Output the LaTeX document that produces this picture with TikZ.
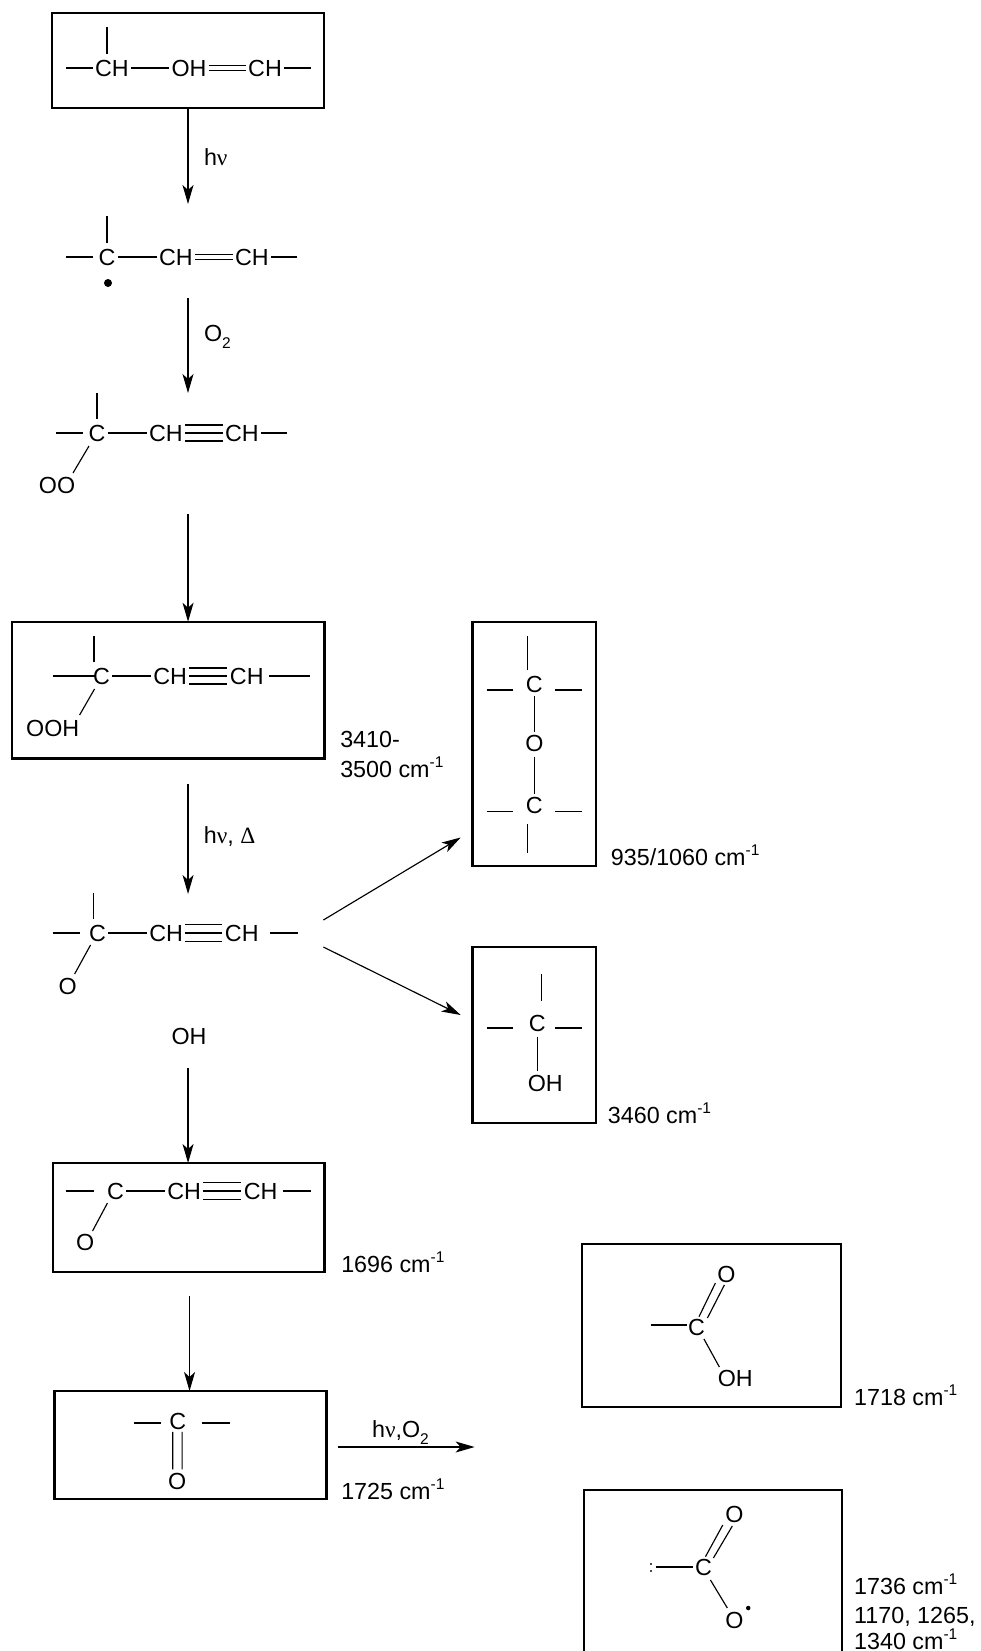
\documentclass[tikz,border=0pt]{standalone}
\usepackage{fontspec}
\setmainfont{Liberation Sans}
\newfontfamily\gk{Liberation Serif}
\usetikzlibrary{arrows.meta}
\newcommand{\nuu}{{\gk ν}}
\newcommand{\dlt}{{\gk Δ}}
\newcommand{\supr}[1]{\raisebox{0.42em}{\fontsize{15.5}{15.5}\selectfont #1}}
\newcommand{\subr}[1]{\raisebox{-0.3em}{\fontsize{15.5}{15.5}\selectfont #1}}
\tikzset{
  x=1pt,y=-1pt,
  atom/.style={font=\fontsize{23.3}{23.3}\selectfont,text height=16.5pt,text depth=0pt,inner xsep=2.5pt,inner ysep=5.5pt,outer sep=0pt,anchor=center},
  lab/.style={font=\fontsize{23.3}{23.3}\selectfont,text height=16.5pt,text depth=0pt,inner sep=0pt,outer sep=0pt,anchor=west},
  frame/.style={draw=black,line width=2.5pt,inner sep=0pt,outer sep=0pt,rectangle},
  bond/.style={draw=black,line width=1.15pt},
  arr/.style={draw=black,line width=1.15pt,-{Stealth[length=19pt,width=11pt,inset=5pt]}},
  radical/.style={circle,fill=black,inner sep=0pt,outer sep=0pt},
}
\begin{document}
\begin{tikzpicture}
\path[use as bounding box,fill=white] (0,0) rectangle (981,1651);
\clip (0,0) rectangle (981,1651);

% first box
\node[frame,minimum width=272pt,minimum height=95pt] (box1) at (188,60.5) {};

% row 1
\node[atom] (a1) at (112,68) {CH};
\node[atom] (a2) at (189,68) {OH};
\node[atom] (a3) at (265,68) {CH};
\coordinate (a1L) at (66,68);
\coordinate (a1U) at (107,27);
\coordinate (a3R) at (311,68);
\draw[bond] (a1L) -- (a1.west);
\draw[bond] (a1U) -- (a1U |- a1.north);
\draw[bond] (a1.east) -- (a2.west);
\draw[bond] ([shift={(0,-2.5)}]a2.east) -- ([shift={(0,-2.5)}]a3.west);
\draw[bond] ([shift={(0,2.5)}]a2.east) -- ([shift={(0,2.5)}]a3.west);
\draw[bond] (a3.east) -- (a3R);

% arrow 1
\coordinate (ar1e) at (188,204);
\draw[arr] (box1.south) -- (ar1e);
\node[lab] (t1) at (204,157) {h\nuu};

% row 2
\node[atom] (b1) at (107,257) {C};
\node[atom] (b2) at (176,257) {CH};
\node[atom] (b3) at (252,257) {CH};
\node[radical,minimum size=8pt] (bdot) at (108,283) {};
\coordinate (b1L) at (66,257);
\coordinate (b1U) at (107,216);
\coordinate (b3R) at (297,257);
\draw[bond] (b1L) -- ([shift={(-3,0)}]b1.west);
\draw[bond] (b1U) -- (b1U |- b1.north);
\draw[bond] (b1.east) -- (b2.west);
\draw[bond] ([shift={(0,-2.5)}]b2.east) -- ([shift={(0,-2.5)}]b3.west);
\draw[bond] ([shift={(0,2.5)}]b2.east) -- ([shift={(0,2.5)}]b3.west);
\draw[bond] (b3.east) -- (b3R);

% arrow 2
\coordinate (ar2s) at (188,298);
\coordinate (ar2e) at (188,393);
\draw[arr] (ar2s) -- (ar2e);
\node[lab] (t2) at (204,333) {O\subr{2}};

% row 3
\node[atom] (c1) at (97,433) {C};
\node[atom] (c2) at (166,433) {CH};
\node[atom] (c3) at (242,433) {CH};
\node[atom] (c4) at (57,485) {OO};
\coordinate (c1L) at (56,433);
\coordinate (c1U) at (97,393);
\coordinate (c3R) at (287,433);
\draw[bond] (c1L) -- ([shift={(-3,0)}]c1.west);
\draw[bond] (c1U) -- (c1U |- c1.north);
\draw[bond] (c1.east) -- (c2.west);
\draw[bond] ([shift={(0,-8)}]c2.east) -- ([shift={(0,-8)}]c3.west);
\draw[bond] (c2.east) -- (c3.west);
\draw[bond] ([shift={(0,8)}]c2.east) -- ([shift={(0,8)}]c3.west);
\draw[bond] (c3.east) -- (c3R);
\draw[bond] ([shift={(-8,13)}]c1.center) -- ([shift={(16,-12)}]c4.center);

\begin{scope}[x=0.995pt]
% boxes
\node[frame,minimum width=312.5pt,minimum height=136.5pt] (box4) at (169,690) {};
\node[frame,minimum width=123.4pt,minimum height=244pt] (box6) at (537,744) {};
\node[frame,minimum width=123.4pt,minimum height=176pt] (box7) at (537,1034.8) {};
\node[frame,minimum width=271.6pt,minimum height=109pt] (box8) at (189.5,1217.5) {};
\node[frame,minimum width=271.6pt,minimum height=108pt] (box9) at (191.5,1445) {};
\node[frame,minimum width=258.7pt,minimum height=163pt] (box10) at (715,1325.5) {};
\node[frame,minimum width=257.7pt,minimum height=190pt] (box11) at (716.5,1585) {};

% arrow 3
\coordinate (ar3s) at (189,514);
\draw[arr] (ar3s) -- (ar3s |- box4.north);

% row 4
\node[atom] (d1) at (102,676) {C};
\node[atom] (d2) at (171,676) {CH};
\node[atom] (d3) at (248,676) {CH};
\node[atom] (d4) at (53,728) {OOH};
\coordinate (d1L) at (53,676);
\coordinate (d1U) at (94.5,636);
\coordinate (d3R) at (312,676);
\draw[bond] (d1L) -- ([shift={(4,0)}]d1.west);
\draw[bond] (d1U) -- (d1U |- d1.north);
\draw[bond] (d1.east) -- (d2.west);
\draw[bond] ([shift={(0,-8)}]d2.east) -- ([shift={(0,-8)}]d3.west);
\draw[bond] (d2.east) -- (d3.west);
\draw[bond] ([shift={(0,8)}]d2.east) -- ([shift={(0,8)}]d3.west);
\draw[bond] ([shift={(3,0)}]d3.east) -- (d3R);
\draw[bond] ([shift={(-7,13)}]d1.center) -- ([shift={(27,-13)}]d4.center);
\node[lab] (t4a) at (342,739.5) {3410-};
\node[lab] (t4b) at (342,769) {3500 cm\supr{-1}};

% arrow 4
\coordinate (ar4s) at (189,784);
\coordinate (ar4e) at (189,894);
\draw[arr] (ar4s) -- (ar4e);
\node[lab] (t5) at (205,835) {h\nuu, \dlt};

% row 5
\node[atom] (g1) at (98,933) {C};
\node[atom] (g2) at (167,933) {CH};
\node[atom] (g3) at (243,933) {CH};
\node[atom] (g4) at (68,986) {O};
\coordinate (g1L) at (53,933);
\coordinate (g1U) at (94,893);
\coordinate (g3R) at (299,933);
\draw[bond] (g1L) -- ([shift={(-7,0)}]g1.west);
\draw[bond] (g1U) -- (g1U |- g1.north);
\draw[bond] (g1.east) -- (g2.west);
\draw[bond] ([shift={(0,-8.5)}]g2.east) -- ([shift={(0,-8.5)}]g3.west);
\draw[bond] (g2.east) -- (g3.west);
\draw[bond] ([shift={(0,8.5)}]g2.east) -- ([shift={(0,8.5)}]g3.west);
\draw[bond] ([shift={(9,0)}]g3.east) -- (g3R);
\draw[bond] ([shift={(-7,12)}]g1.center) -- ([shift={(7,-12)}]g4.center);

% branch arrows
\coordinate (br1s) at (325,920);
\coordinate (br1e) at (463,837.5);
\coordinate (br2s) at (325,947);
\coordinate (br2e) at (463,1015);
\draw[arr] (br1s) -- (br1e);
\draw[arr] (br2s) -- (br2e);

% box 6 content
\node[atom] (e1) at (537,684) {C};
\node[atom] (e2) at (537,743.5) {O};
\node[atom] (e3) at (537,805) {C};
\coordinate (e1U) at (530,636);
\coordinate (e3D) at (530,853);
\coordinate (e1L) at (489,690);
\coordinate (e1R) at (585,690);
\coordinate (e3L) at (489,811.5);
\coordinate (e3R) at (585,811.5);
\draw[bond] (e1U) -- (e1U |- e1.north);
\draw[bond] (e1L) -- ([shift={(-10,6)}]e1.west);
\draw[bond] ([shift={(10,6)}]e1.east) -- (e1R);
\draw[bond] ([shift={(0,-2)}]e1.south) -- ([shift={(0,2)}]e2.north);
\draw[bond] (e2.south) -- ([shift={(0,3)}]e3.north);
\draw[bond] (e3L) -- ([shift={(-10,6.5)}]e3.west);
\draw[bond] ([shift={(10,6.5)}]e3.east) -- (e3R);
\draw[bond] ([shift={(-7,5)}]e3.south) -- (e3D);
\node[lab] (t6) at (614,857.5) {935/1060 cm\supr{-1}};

% box 7 content
\node[atom] (f1) at (540,1023) {C};
\node[atom] (f2) at (548,1083) {OH};
\coordinate (f1U) at (544,974);
\coordinate (f1L) at (489,1028);
\coordinate (f1R) at (585,1028);
\draw[bond] (f1U) -- ([shift={(4,-8)}]f1.north);
\draw[bond] (f1L) -- ([shift={(-13,5)}]f1.west);
\draw[bond] ([shift={(7,5)}]f1.east) -- (f1R);
\draw[bond] (f1.south) -- ([shift={(-8,2)}]f2.north);
\node[lab] (t7) at (611,1115) {3460 cm\supr{-1}};

% OH label and arrow 5
\node[atom] (oh) at (190,1036) {OH};
\coordinate (ar5s) at (189,1068);
\draw[arr] (ar5s) -- (ar5s |- box8.north);

% box 8 content
\node[atom] (h1) at (116,1191) {C};
\node[atom] (h2) at (185,1191) {CH};
\node[atom] (h3) at (262,1191) {CH};
\node[atom] (h4) at (85.5,1242) {O};
\coordinate (h1L) at (66,1191);
\coordinate (h3R) at (313,1191);
\draw[bond] (h1L) -- ([shift={(-11,0)}]h1.west);
\draw[bond] (h1.east) -- (h2.west);
\draw[bond] ([shift={(0,-8.5)}]h2.east) -- ([shift={(0,-8.5)}]h3.west);
\draw[bond] (h2.east) -- (h3.west);
\draw[bond] ([shift={(0,8.5)}]h2.east) -- ([shift={(0,8.5)}]h3.west);
\draw[bond] ([shift={(3,0)}]h3.east) -- (h3R);
\draw[bond] ([shift={(-8,12)}]h1.center) -- ([shift={(7.5,-11)}]h4.center);
\node[lab] (t8) at (343,1264) {1696 cm\supr{-1}};

% arrow 6
\coordinate (ar6s) at (190.5,1296);
\draw[arr] (ar6s) -- (ar6s |- box9.north);

% box 9 content
\node[atom] (i1) at (178.6,1421) {C};
\node[atom] (i2) at (178,1481) {O};
\coordinate (i1L) at (135,1423);
\coordinate (i1R) at (231,1423);
\draw[bond] (i1L) -- ([shift={(-5.6,2)}]i1.west);
\draw[bond] ([shift={(13.4,2)}]i1.east) -- (i1R);
\draw[bond] ([shift={(-5,-3)}]i1.south) -- ([shift={(-4.4,2)}]i2.north);
\draw[bond] ([shift={(4.4,-3)}]i1.south) -- ([shift={(5,2)}]i2.north);
\node[lab] (t9) at (343,1491) {1725 cm\supr{-1}};

% arrow 7
\coordinate (ar7s) at (340,1447);
\coordinate (ar7e) at (477,1447);
\draw[arr] (ar7s) -- (ar7e);
\node[lab] (t10) at (374,1429) {h\nuu,O\subr{2}};

% box 10 content
\node[atom] (j1) at (700,1327) {C};
\node[atom] (j2) at (730,1274) {O};
\node[atom] (j3) at (739,1378) {OH};
\coordinate (j1L) at (654,1325);
\draw[bond] (j1L) -- ([shift={(1,-2)}]j1.west);
\draw[bond] ([shift={(2.5,-10.3)}]j1.center) -- ([shift={(-11,9)}]j2.center);
\draw[bond] ([shift={(11,-9)}]j1.center) -- ([shift={(-2,11)}]j2.center);
\draw[bond] ([shift={(7.5,12)}]j1.center) -- ([shift={(-16,-11)}]j3.center);
\node[lab] (t11) at (858.5,1397) {1718 cm\supr{-1}};

% box 11 content
\node[atom] (k1) at (707,1567) {C};
\node[atom] (k2) at (738,1514) {O};
\node[atom] (k3) at (738,1620) {O};
\node[radical,minimum size=4.5pt] (kdot) at (752,1608) {};
\coordinate (k1L) at (659,1567);
\draw[bond] (k1L) -- (k1.west);
\draw[bond] ([shift={(2,-10.3)}]k1.center) -- ([shift={(-11.6,11)}]k2.center);
\draw[bond] ([shift={(10,-9)}]k1.center) -- ([shift={(-2,12)}]k2.center);
\draw[bond] ([shift={(7,13)}]k1.center) -- ([shift={(-7,-12)}]k3.center);
\fill[black!70] (653.5,1563) rectangle (655,1565);
\fill[black!70] (653.5,1570) rectangle (655,1572);
\node[lab] (t12a) at (858.5,1586) {1736 cm\supr{-1}};
\node[lab] (t12b) at (858.5,1615) {1170, 1265,};
\node[lab] (t12c) at (858.5,1641) {1340 cm\supr{-1}};
\end{scope}
\end{tikzpicture}
\end{document}
